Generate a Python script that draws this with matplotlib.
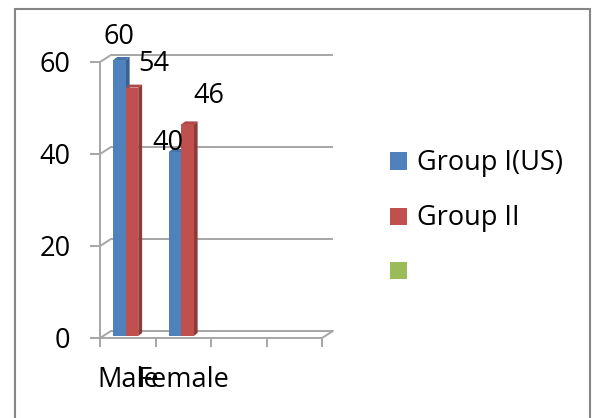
import matplotlib
matplotlib.use("Agg")
import matplotlib.pyplot as plt
from matplotlib.patches import Rectangle, Polygon, ConnectionPatch
from matplotlib.transforms import offset_copy

plt.rcParams['font.family'] = ['Open Sans', 'DejaVu Sans']

# ---- data ----
categories = ["Male", "Female"]
series_names = ["Group I(US)", "Group II", ""]
group1 = [60, 40]
group2 = [54, 46]
series_values = [group1, group2]
y_ticks = [0, 20, 40, 60]

# ---- style ----
W, H = 594, 418
n_slots = 4
face_colors = ["#4F81BD", "#C0504D", "#9BBB59"]
side_colors = ["#3A6190", "#8E3A38", "#73893F"]
top_colors = ["#4674AA", "#AD4745", "#8BA850"]
grid_color = "#A6A6A6"
fs = 19.5
bar_w = 0.225
depth_dx, depth_dy = 0.07, 0.65          # bar depth in data units
label_offsets = [[(-1, 16), (-7, 2)],    # pixel offsets of value labels
                 [(22, 17), (21, 21)]]

fig = plt.figure(figsize=(W / 100, H / 100), dpi=100)
ax = fig.add_axes([100 / W, 80 / H, 222 / W, 276 / H])
ax.set_xlim(0, n_slots)
ax.set_ylim(0, 60)
ax.patch.set_alpha(0)

# back wall of the 3-D box
back = offset_copy(ax.transData, fig=fig, x=11, y=7, units='dots')
for v in y_ticks:
    ax.plot([0, n_slots], [v, v], color=grid_color, lw=1.4, transform=back,
            clip_on=False, zorder=1, solid_capstyle='butt')
    fig.add_artist(ConnectionPatch(xyA=(0, v), coordsA=ax.transData,
                                   xyB=(0, v), coordsB=back,
                                   color=grid_color, lw=1.4, zorder=1))
fig.add_artist(ConnectionPatch(xyA=(n_slots, 0), coordsA=ax.transData,
                               xyB=(n_slots, 0), coordsB=back,
                               color=grid_color, lw=1.4, zorder=1))

# front axes
for side in ("top", "right"):
    ax.spines[side].set_visible(False)
for side in ("left", "bottom"):
    ax.spines[side].set_color(grid_color)
    ax.spines[side].set_linewidth(1.4)
ax.set_yticks(y_ticks)
ax.set_yticklabels([str(t) for t in y_ticks], fontsize=fs)
ax.tick_params(axis='y', length=7.2, width=1.4, color=grid_color, pad=14,
               direction='out')
ax.set_xticks(range(n_slots + 1))
ax.set_xticklabels([])
ax.tick_params(axis='x', which='major', length=6.5, width=1.4,
               color=grid_color, direction='out')
ax.set_xticks([i + 0.5 for i in range(len(categories))], minor=True)
ax.set_xticklabels(categories, minor=True, fontsize=fs)
ax.tick_params(axis='x', which='minor', length=0, pad=20)

# 3-D columns
bar_tr = offset_copy(ax.transData, fig=fig, x=-2, y=2, units='dots')
for ci in range(len(categories)):
    for si, vals in enumerate(series_values):
        v = vals[ci]
        x0 = ci + 0.5 - bar_w + si * bar_w
        x1 = x0 + bar_w
        side = Polygon([(x1, 0), (x1, v), (x1 + depth_dx, v + depth_dy),
                        (x1 + depth_dx, depth_dy)], closed=True,
                       facecolor=side_colors[si], edgecolor='none',
                       transform=bar_tr, zorder=3, clip_on=False)
        top = Polygon([(x0, v), (x1, v), (x1 + depth_dx, v + depth_dy),
                       (x0 + depth_dx, v + depth_dy)], closed=True,
                      facecolor=top_colors[si], edgecolor='none',
                      transform=bar_tr, zorder=3, clip_on=False)
        front = Rectangle((x0, 0), bar_w, v, facecolor=face_colors[si],
                          edgecolor='none', transform=bar_tr, zorder=3,
                          clip_on=False)
        ax.add_patch(side)
        ax.add_patch(top)
        ax.add_patch(front)
        ox, oy = label_offsets[si][ci]
        ax.annotate(str(v), xy=(x0 + bar_w / 2, v), xycoords=bar_tr,
                    xytext=(ox, oy), textcoords='offset pixels',
                    ha='center', va='baseline', fontsize=fs, zorder=5)

# legend
leg_y = [161, 216, 270]
for si, name in enumerate(series_names):
    yc = leg_y[si]
    fig.add_artist(Rectangle((390 / W, 1 - (yc + 8.5) / H), 17 / W, 17 / H,
                             transform=fig.transFigure,
                             facecolor=face_colors[si], edgecolor='none'))
    if name:
        fig.text(417 / W, 1 - (yc + 9) / H, name, fontsize=fs,
                 va='baseline', ha='left')

# chart frame
fig.add_artist(Rectangle((15 / W, -0.05), 575 / W, 1 - 9.5 / H + 0.05,
                         transform=fig.transFigure, facecolor='none',
                         edgecolor='#868686', lw=1.5))

fig.savefig("out.png", dpi=100)
